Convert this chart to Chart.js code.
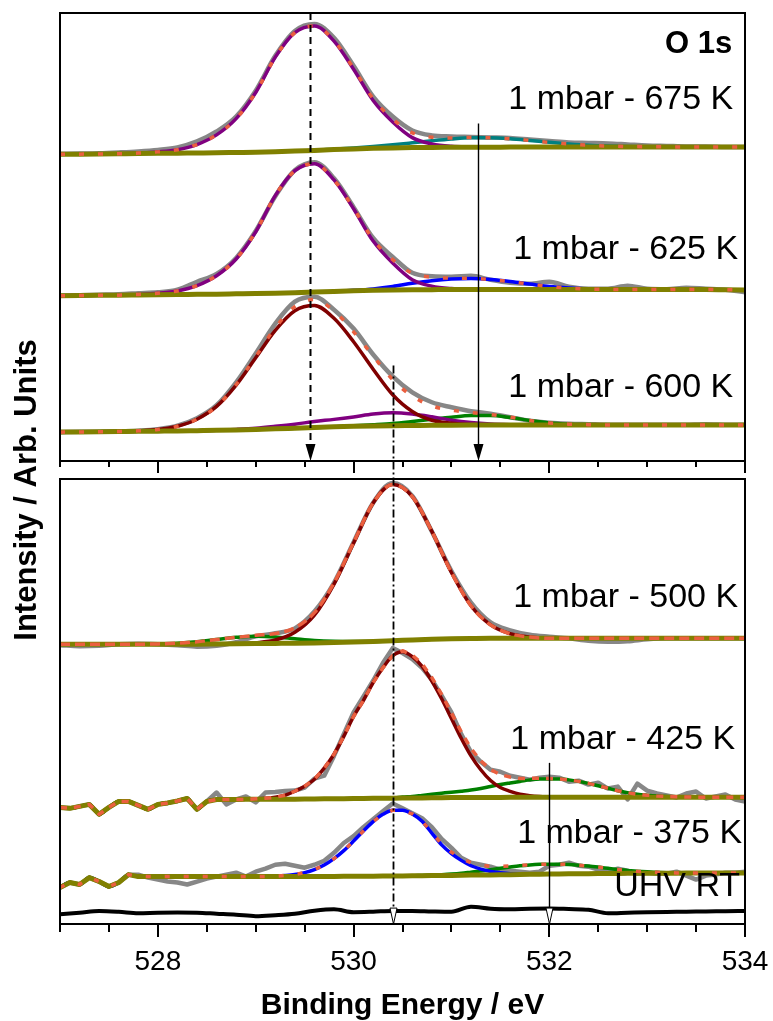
<!DOCTYPE html>
<html>
<head>
<meta charset="utf-8">
<title>O 1s</title>
<script src="https://cdn.jsdelivr.net/npm/chart.js@4.4.1/dist/chart.umd.min.js"></script>
<style>
  html, body { margin: 0; padding: 0; background: #fff; }
  #wrap { position: relative; width: 773px; height: 1021px; }
  #wrap canvas { position: absolute; left: 0; top: 0; }
</style>
</head>
<body>
<div id="wrap">
  <canvas id="upper" width="773" height="1021"></canvas>
  <canvas id="lower" width="773" height="1021"></canvas>
</div>
<script>
// ---------------- energy grids (eV) ----------------
const E_MIN = 527, E_MAX = 534;
function energyGrid(step) {
  const out = [];
  const n = Math.round((E_MAX - E_MIN) / step);
  for (let i = 0; i <= n; i++) out.push(+(E_MIN + i * step).toFixed(2));
  return out;
}
const coarse = energyGrid(0.2);   // 36 points
const fine = energyGrid(0.1);     // 71 points

// vertical offsets of the stacked spectra (arb. units)
const offsetsUpper = [308, 166, 29];      // 675 K, 625 K, 600 K
const offsetsLower = [283, 126, 48, 12];  // 500 K, 425 K, 375 K, UHV RT

// ---------------- 1 mbar - 675 K (0.2 eV grid) ----------------
const raw675 = [0.5, 0.8, 1.2, 2, 3, 4.5, 7, 13, 23, 38, 64, 99, 124, 131, 117, 89, 58, 38, 24, 19,
  18, 17.5, 17, 16.5, 15, 13.5, 12, 11.5, 11, 10, 9, 8.5, 8, 8, 7.5, 7.5];
const bg675 = [0, 0.2, 0.4, 0.6, 0.8, 1.0, 1.2, 1.4, 1.6, 1.9, 2.2, 2.7, 3.3, 4.0, 4.8, 5.5, 6.1, 6.5, 6.8, 7.0,
  7.1, 7.2, 7.2, 7.3, 7.3, 7.3, 7.4, 7.4, 7.4, 7.4, 7.5, 7.5, 7.5, 7.5, 7.5, 7.5];
const peak675a = [0, 0, 0, 0, 0.5, 1.5, 3.5, 8.5, 18, 34, 60, 95, 119, 125, 109, 80, 48, 26, 10, 3.5,
  1, 0.3, 0, 0, 0, 0, 0, 0, 0, 0, 0, 0, 0, 0, 0, 0];
const peak675b = [0, 0, 0, 0, 0, 0, 0, 0, 0, 0, 0, 0, 0, 0, 0.4, 0.9, 1.8, 3.1, 4.8, 6.7,
  8.4, 9.4, 9.4, 8.4, 6.7, 4.8, 3.1, 1.8, 1.0, 0.5, 0.2, 0, 0, 0, 0, 0];

// ---------------- 1 mbar - 625 K ----------------
const raw625 = [0, 0.5, 1, 1.5, 2.5, 3.5, 6, 14, 22, 38, 65, 100, 126, 134, 118, 89, 58, 39, 23, 19.5,
  19, 20, 16, 13, 12, 14, 9, 7, 7, 10, 7, 6.5, 8, 7, 6, 3.5];
const bg625 = [0, 0.2, 0.4, 0.6, 0.8, 1.0, 1.2, 1.4, 1.6, 1.9, 2.2, 2.6, 3.1, 3.7, 4.3, 4.9, 5.4, 5.8, 6.0, 6.1,
  6.2, 6.2, 6.2, 6.2, 6.2, 6.2, 6.2, 6.2, 6.2, 6.2, 6.2, 6.2, 6.2, 6.2, 6.0, 5.8];
const peak625a = [0, 0, 0, 0, 0.5, 1.5, 3.6, 8.8, 18.5, 35, 62, 98, 122.5, 129, 112, 82.5, 49.5, 27, 10, 3.5,
  1, 0.3, 0, 0, 0, 0, 0, 0, 0, 0, 0, 0, 0, 0, 0, 0];
const peak625b = [0, 0, 0, 0, 0, 0, 0, 0, 0, 0, 0, 0, 0, 0, 0, 0.5, 1.5, 3.5, 6.5, 9,
  10.5, 11, 10, 8, 5.5, 3, 1.5, 0.6, 0.2, 0, 0, 0, 0, 0, 0, 0];

// ---------------- 1 mbar - 600 K ----------------
const raw600 = [0, 0.3, 0.5, 0.8, 1.5, 3, 6.5, 14, 27, 50, 79, 109, 131, 136, 123, 104, 78, 56, 40, 30,
  25, 21, 18.5, 15, 11.5, 9.5, 8.5, 8, 7.5, 7.5, 7.3, 7.3, 7.5, 8, 7.5, 7.3];
const bg600 = [0, 0.2, 0.4, 0.6, 0.8, 1.0, 1.2, 1.5, 1.8, 2.2, 2.7, 3.3, 4.0, 4.7, 5.3, 5.8, 6.2, 6.5, 6.7, 6.9,
  7.0, 7.1, 7.2, 7.2, 7.2, 7.2, 7.2, 7.2, 7.2, 7.2, 7.2, 7.2, 7.2, 7.2, 7.2, 7.2];
const peak600a = [0, 0, 0, 0, 0.5, 1.6, 4.7, 11.5, 24, 45, 72, 99, 118, 122.5, 109, 85, 57, 31, 14, 5,
  2, 0.6, 0, 0, 0, 0, 0, 0, 0, 0, 0, 0, 0, 0, 0, 0];
const peak600b = [0, 0, 0, 0, 0, 0, 0, 0, 0, 0.5, 1.2, 2.5, 4, 6, 7.5, 9.5, 12, 13, 11.5, 8.5,
  5, 2.5, 1, 0.3, 0, 0, 0, 0, 0, 0, 0, 0, 0, 0, 0, 0];
const peak600c = [0, 0, 0, 0, 0, 0, 0, 0, 0, 0, 0, 0, 0, 0, 0, 0.5, 1.2, 2.2, 4, 6,
  8, 9.5, 9.5, 7.5, 4.5, 2, 0.8, 0.3, 0, 0, 0, 0, 0, 0, 0, 0];

// ---------------- 1 mbar - 500 K ----------------
const raw500 = [-1, -2, -1.5, 0, 0.5, 0, -1, -2.5, -1.5, 2, 8, 11, 16, 33, 62, 103, 143, 163, 150, 114,
  74, 42, 22, 14, 9.5, 7.5, 6, 3.5, 2.5, 3, 5, 6, 6, 6, 6, 6];
const bg500 = [0, 0, 0, 0, 0, 0, 0, 0, 0.2, 0.4, 0.6, 0.8, 1.0, 1.3, 1.7, 2.2, 2.8, 3.5, 4.3, 5.0,
  5.5, 5.8, 6.0, 6.0, 6.0, 6.0, 6.0, 6.0, 6.0, 6.0, 6.0, 6.0, 6.0, 6.0, 6.0, 6.0];
const peak500a = [0, 0, 0, 0, 0, 0, 0, 0, 0, 0, 0.9, 3.4, 11, 28, 59, 100, 140, 158, 145, 109,
  67, 33, 13.5, 4.5, 1.2, 0, 0, 0, 0, 0, 0, 0, 0, 0, 0, 0];
const peak500b = [0, 0, 0, 0, 0, 0.3, 1, 2.5, 4.5, 6.5, 7.5, 6.5, 4.5, 2.5, 1.2, 0.5, 0, 0, 0, 0,
  0, 0, 0, 0, 0, 0, 0, 0, 0, 0, 0, 0, 0, 0, 0, 0];

// ---------------- 1 mbar - 425 K (0.1 eV grid) ----------------
const raw425 = [
  -8, -9, -7, -5, -15, -8, -2, -2, -6, -10,
  -5, -3.5, -1.5, 1, -10, -2, 7, -5, 0, 3,
  -3, 7, 7.5, 8.5, 9, 12, 21, 24, 44, 66,
  88, 104, 120, 138, 153, 148, 142, 133, 121, 105,
  88, 66, 48, 38, 30, 28, 24, 22, 20, 22,
  23, 22, 18, 19, 15, 17, 11, 13, 0, 16,
  9, 6, 4, 2, 6, 8, 1, 3, 5, 0,
  -2];
const bg425 = [
  -8, -9, -7, -5, -15, -8, -2, -2, -6, -10,
  -5, -3.5, -1.5, 1, -10, -2, 0, 0, 0, 0.1,
  0.1, 0.2, 0.2, 0.3, 0.3, 0.4, 0.5, 0.6, 0.7, 0.8,
  0.9, 1.0, 1.1, 1.2, 1.3, 1.4, 1.5, 1.6, 1.7, 1.8,
  1.9, 1.9, 2.0, 2.0, 2.1, 2.1, 2.2, 2.2, 2.3, 2.3,
  2.3, 2.3, 2.3, 2.3, 2.3, 2.3, 2.3, 2.3, 2.3, 2.3,
  2.3, 2.3, 2.3, 2.3, 2.3, 2.3, 2.3, 2.3, 2.3, 2.3,
  2.3];
const peak425a = [
  0, 0, 0, 0, 0, 0, 0, 0, 0, 0,
  0, 0, 0, 0, 0, 0, 0, 0, 0, 0,
  0.5, 1, 2, 4, 8, 13, 20, 31, 45, 63,
  83, 99, 117, 132, 144, 148, 143, 133, 118, 100,
  80, 60, 42, 28, 17, 10, 6, 3, 1.5, 0.7,
  0.3, 0, 0, 0, 0, 0, 0, 0, 0, 0,
  0, 0, 0, 0, 0, 0, 0, 0, 0, 0,
  0];
const peak425b = [
  0, 0, 0, 0, 0, 0, 0, 0, 0, 0,
  0, 0, 0, 0, 0, 0, 0, 0, 0, 0,
  0, 0, 0, 0, 0, 0, 0, 0, 0, 0,
  0, 0, 0, 0, 0, 1, 1.5, 2.5, 3.5, 4.5,
  5.5, 6.5, 7.5, 9, 11, 13, 14.5, 16, 17.5, 18.5,
  18.5, 18.5, 17.5, 16, 14, 11.5, 9, 6.5, 4.5, 3,
  2, 1.2, 0.7, 0.4, 0.2, 0, 0, 0, 0, 0,
  0];

// ---------------- 1 mbar - 375 K (0.1 eV grid) ----------------
const raw375 = [
  -11, -6, -8, -1, -5, -10, -6, 2, 2, -1,
  -3, -5, -6, -8, -5, -2, 0, 2, 4, 0,
  5, 8, 12, 13, 11, 9, 12, 16, 24, 34,
  41, 50, 58, 66, 74, 69, 64, 59, 50, 38,
  29, 19, 14, 12, 10, 7, 6, 5, 4, 5,
  11, 12, 14, 11, 10, 7, 5, 8, 6, 3,
  4, 3, 3, 5, 1, -3, 1, 2, 4, 4,
  5];
const bg375 = [
  -11, -6, -8, -1, -5, -10, -6, 2, 0, 0,
  0, 0, 0, 0, 0, 0, 0, 0, 0, 0,
  0, 0, 0, 0, 0, 0, 0.1, 0.15, 0.2, 0.25,
  0.3, 0.4, 0.45, 0.5, 0.6, 0.7, 0.8, 0.9, 1.0, 1.1,
  1.2, 1.4, 1.5, 1.6, 1.7, 1.9, 2.0, 2.2, 2.3, 2.5,
  2.6, 2.7, 2.8, 2.9, 3.0, 3.1, 3.2, 3.2, 3.3, 3.4,
  3.4, 3.5, 3.5, 3.5, 3.6, 3.6, 3.6, 3.6, 3.7, 3.7,
  3.7];
const peak375a = [
  0, 0, 0, 0, 0, 0, 0, 0, 0, 0,
  0, 0, 0, 0, 0, 0, 0, 0, 0, 0,
  0, 0, 0.5, 1.1, 2.1, 4, 7, 11.5, 17.9, 26,
  35.6, 45.7, 55.1, 62.5, 66.5, 66.5, 62.5, 55, 43, 31,
  22, 15, 9.5, 6, 3.5, 2, 1, 0.5, 0, 0,
  0, 0, 0, 0, 0, 0, 0, 0, 0, 0,
  0, 0, 0, 0, 0, 0, 0, 0, 0, 0,
  0];
const peak375b = [
  0, 0, 0, 0, 0, 0, 0, 0, 0, 0,
  0, 0, 0, 0, 0, 0, 0, 0, 0, 0,
  0, 0, 0, 0, 0, 0, 0, 0, 0, 0,
  0, 0, 0, 0, 0, 0, 0, 0.3, 0.5, 0.9,
  1.4, 2, 3, 4, 5.2, 6.5, 7.7, 8.7, 9.5, 9.9,
  10, 9.9, 9.5, 8.7, 7.7, 6.5, 5.2, 4, 3, 2,
  1.4, 0.9, 0.5, 0.2, 0, 0, 0, 0, 0, 0,
  0];

// ---------------- UHV RT (0.2 eV grid) ----------------
const rawUhv = [-2, -0.5, 1.3, 0.5, -1, -0.5, -0.3, -0.5, -1.5, -2.5, -4, -3, -1.5, 1.5, 3, 0, 0.5, 1.3, 1.3, 0.8,
  0.5, 5.5, 3.5, 3, 3.5, 3.7, 3.2, 2.5, -1, -0.5, 0, 0.3, 0.5, 0.8, 1, 1.3];

// labels and the peak positions marked with arrows
const upperLabels = ['O 1s', '1 mbar - 675 K', '1 mbar - 625 K', '1 mbar - 600 K'];
const lowerLabels = ['1 mbar - 500 K', '1 mbar - 425 K', '1 mbar - 375 K', 'UHV RT'];
const markerEnergy = [529.55, 531.27, 530.4, 532.0];

// ---------------- styles / layout ----------------
const FONT = "'Liberation Sans', Arial, Helvetica, sans-serif";
Chart.defaults.font.family = FONT;
Chart.defaults.color = '#000';

const RAW = '#878787', OLIVE = '#808000', ENVELOPE = '#ea5f3f';
const PURPLE = '#800080', TEAL = '#008080', BLUE = '#0000ff', MAROON = '#800000', GREEN = '#008000';

// label anchors: [right edge energy, height in panel units]
const upperLabelPos = [[533.87, 418], [533.88, 363], [533.93, 212], [533.88, 74]];
const lowerLabelPos = [[533.93, 330], [533.9, 186], [533.97, 91], [533.95, 38]];
const upperLabelFont = ['bold 31px ' + FONT, '34px ' + FONT, '34px ' + FONT, '34px ' + FONT];

// arrow lines: start/end as [panel, height]
const markerStyle = [
  { from: ['upper', 450], to: ['upper', 0], dash: [7, 5], width: 2, head: 'filled' },
  { from: ['upper', 339], to: ['upper', 0], dash: [], width: 1.4, head: 'filled' },
  { from: ['upper', 96], to: ['lower', 0], dash: [8, 3, 2, 3], width: 1.8, head: 'open' },
  { from: ['lower', 163], to: ['lower', 0], dash: [], width: 1.4, head: 'open' }
];

const upperSpectra = [
  { grid: coarse, offset: offsetsUpper[0], raw: raw675, bg: bg675, peaks: [peak675a, peak675b], colors: [PURPLE, TEAL], dash: [5, 14] },
  { grid: coarse, offset: offsetsUpper[1], raw: raw625, bg: bg625, peaks: [peak625a, peak625b], colors: [PURPLE, BLUE], dash: [5, 14] },
  { grid: coarse, offset: offsetsUpper[2], raw: raw600, bg: bg600, peaks: [peak600a, peak600b, peak600c], colors: [MAROON, PURPLE, GREEN], dash: [5, 14] }
];
const lowerSpectra = [
  { grid: coarse, offset: offsetsLower[0], raw: raw500, bg: bg500, peaks: [peak500a, peak500b], colors: [MAROON, GREEN], dash: [10, 5] },
  { grid: fine, offset: offsetsLower[1], raw: raw425, bg: bg425, peaks: [peak425a, peak425b], colors: [MAROON, GREEN], dash: [7, 7] },
  { grid: fine, offset: offsetsLower[2], raw: raw375, bg: bg375, peaks: [peak375a, peak375b], colors: [BLUE, GREEN], dash: [5, 14] }
];

function toPoints(grid, offset, values) {
  return grid.map((e, i) => ({ x: e, y: offset + values[i] }));
}

// raw data, fit components (on top of the background), background and fit envelope
function spectrumSets(s) {
  const smooth = s.grid === coarse;
  const line = (values, color, width, order, curve, extra) => Object.assign({
    data: toPoints(s.grid, s.offset, values),
    borderColor: color,
    borderWidth: width,
    borderJoinStyle: 'round',
    order: order,
    tension: 0,
    cubicInterpolationMode: curve ? 'monotone' : 'default'
  }, extra || {});
  const sets = [line(s.raw, RAW, 4.5, 3, smooth)];
  s.peaks.forEach((p, k) => {
    sets.push(line(s.bg.map((b, i) => b + p[i]), s.colors[k], 3.5, 2, true));
  });
  sets.push(line(s.bg, OLIVE, 5, 1, smooth));
  const envelope = s.bg.map((b, i) => s.peaks.reduce((sum, p) => sum + p[i], b));
  sets.push(line(envelope, ENVELOPE, 3.5, 0, smooth, { borderDash: s.dash }));
  return sets;
}

function panelOptions(padding, xAxis) {
  return {
    responsive: false,
    animation: false,
    events: [],
    layout: { padding: padding },
    plugins: { legend: { display: false }, tooltip: { enabled: false } },
    elements: { point: { radius: 0 } },
    scales: {
      x: Object.assign({
        type: 'linear', min: E_MIN, max: E_MAX,
        border: { display: true, color: '#000', width: 2 }
      }, xAxis),
      y: { display: false, min: 0, max: 450 }
    }
  };
}

// panel frame and the short unlabelled ticks every 0.5 eV
function framePlugin(tickLen) {
  return {
    id: 'frame',
    afterDraw(chart) {
      const { ctx, chartArea: a } = chart;
      const xs = chart.scales.x;
      ctx.save();
      ctx.strokeStyle = '#000';
      ctx.lineWidth = 2;
      ctx.lineCap = 'square';
      ctx.beginPath();
      ctx.moveTo(a.left, a.bottom);
      ctx.lineTo(a.left, a.top);
      ctx.lineTo(a.right, a.top);
      ctx.lineTo(a.right, a.bottom);
      ctx.stroke();
      ctx.lineCap = 'butt';
      ctx.beginPath();
      for (let e = xs.min; e <= xs.max + 1e-9; e += 0.5) {
        if (Math.abs(e / 2 - Math.round(e / 2)) < 1e-6) continue;
        const px = Math.round(xs.getPixelForValue(e));
        ctx.moveTo(px, a.bottom);
        ctx.lineTo(px, a.bottom + tickLen);
      }
      ctx.stroke();
      ctx.restore();
    }
  };
}

function labelPlugin(texts, anchors, fonts) {
  return {
    id: 'labels',
    afterDraw(chart) {
      const ctx = chart.ctx;
      ctx.save();
      ctx.fillStyle = '#000';
      ctx.textAlign = 'right';
      ctx.textBaseline = 'middle';
      texts.forEach((t, i) => {
        ctx.font = fonts[i];
        ctx.fillText(t, chart.scales.x.getPixelForValue(anchors[i][0]), chart.scales.y.getPixelForValue(anchors[i][1]));
      });
      ctx.restore();
    }
  };
}

let upperChart = null;

const markerPlugin = {
  id: 'markers',
  afterDraw(chart) {
    const ctx = chart.ctx;
    const panels = { upper: upperChart, lower: chart };
    ctx.save();
    markerEnergy.forEach((e, i) => {
      const m = markerStyle[i];
      const x = Math.round(chart.scales.x.getPixelForValue(e)) + 0.5;
      const y0 = panels[m.from[0]].scales.y.getPixelForValue(m.from[1]);
      const y1 = panels[m.to[0]].scales.y.getPixelForValue(m.to[1]);
      const headLen = m.head === 'filled' ? 17 : 16;
      const half = m.head === 'filled' ? 5 : 3.5;
      ctx.strokeStyle = '#000';
      ctx.lineWidth = m.width;
      ctx.setLineDash(m.dash);
      ctx.beginPath();
      ctx.moveTo(x, y0);
      ctx.lineTo(x, y1 - headLen);
      ctx.stroke();
      ctx.setLineDash([]);
      ctx.beginPath();
      ctx.moveTo(x - half, y1 - headLen);
      ctx.lineTo(x + half, y1 - headLen);
      ctx.lineTo(x, y1);
      ctx.closePath();
      if (m.head === 'filled') {
        ctx.fillStyle = '#000';
        ctx.fill();
      } else {
        ctx.fillStyle = '#fff';
        ctx.fill();
        ctx.lineWidth = 1;
        ctx.stroke();
      }
    });

    // shared y-axis title
    ctx.fillStyle = '#000';
    ctx.font = 'bold 31px ' + FONT;
    ctx.textAlign = 'center';
    ctx.textBaseline = 'alphabetic';
    ctx.translate(36, 490);
    ctx.rotate(-Math.PI / 2);
    ctx.fillText('Intensity / Arb. Units', 0, 0);
    ctx.restore();
  }
};

// ---------------- upper panel ----------------
upperChart = new Chart(document.getElementById('upper'), {
  type: 'line',
  data: { datasets: upperSpectra.flatMap(spectrumSets) },
  options: panelOptions({ left: 60, right: 28, top: 13, bottom: 548 }, {
    grid: { drawOnChartArea: false, drawTicks: true, tickLength: 12, tickWidth: 2, lineWidth: 2, color: '#000', tickColor: '#000' },
    ticks: { display: false, stepSize: 2, includeBounds: false }
  }),
  plugins: [framePlugin(6), labelPlugin(upperLabels, upperLabelPos, upperLabelFont)]
});

// ---------------- lower panel ----------------
const lowerSets = lowerSpectra.flatMap(spectrumSets);
lowerSets.push({
  data: toPoints(coarse, offsetsLower[3], rawUhv),
  borderColor: '#000', borderWidth: 4, order: 3, tension: 0, cubicInterpolationMode: 'monotone'
});

new Chart(document.getElementById('lower'), {
  type: 'line',
  data: { datasets: lowerSets },
  options: panelOptions({ left: 60, right: 28, top: 479, bottom: 0 }, {
    grid: { drawOnChartArea: false, drawTicks: true, tickLength: 13, tickWidth: 2, lineWidth: 2, color: '#000', tickColor: '#000' },
    ticks: { stepSize: 2, includeBounds: false, padding: 2, maxRotation: 0, color: '#000', font: { size: 28, lineHeight: 1.64 } },
    title: { display: true, text: 'Binding Energy / eV', color: '#000', font: { size: 30, weight: 'bold', lineHeight: 1 }, padding: { top: 4, bottom: 0 } }
  }),
  plugins: [framePlugin(8), labelPlugin(lowerLabels, lowerLabelPos, lowerLabels.map(() => '34px ' + FONT)), markerPlugin]
});
</script>
</body>
</html>
